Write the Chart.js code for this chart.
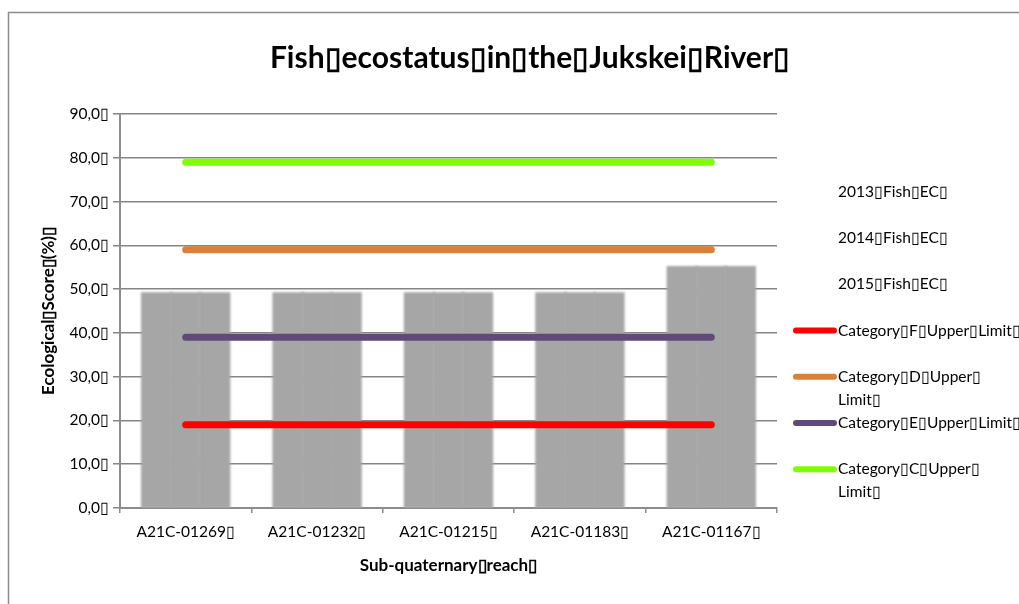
<!DOCTYPE html>
<html>
<head>
<meta charset="utf-8">
<script src="https://cdn.jsdelivr.net/npm/chart.js@4/dist/chart.umd.min.js"></script>
<style>
  html, body { margin: 0; padding: 0; background: #ffffff; }
  #wrap { width: 1019px; height: 604px; position: relative; }
</style>
</head>
<body>
<div id="wrap"><canvas id="c" width="1019" height="604"></canvas></div>
<script>
// Sub-quaternary reaches along the river
const categories = ['A21C-01269\u25AF', 'A21C-01232\u25AF', 'A21C-01215\u25AF', 'A21C-01183\u25AF', 'A21C-01167\u25AF'];

// Fish ecological category scores (%) per survey year
const fish2013 = [49, 49, 49, 49, 55];
const fish2014 = [49, 49, 49, 49, 55];
const fish2015 = [49, 49, 49, 49, 55];

// Upper limits of the ecological categories
const limitF = [19, 19, 19, 19, 19];
const limitD = [59, 59, 59, 59, 59];
const limitE = [39, 39, 39, 39, 39];
const limitC = [79, 79, 79, 79, 79];

// Y axis ticks
const yTicks = [0, 10, 20, 30, 40, 50, 60, 70, 80, 90];

const seriesNames = ['2013\u25AFFish\u25AFEC\u25AF', '2014\u25AFFish\u25AFEC\u25AF', '2015\u25AFFish\u25AFEC\u25AF',
  'Category\u25AFF\u25AFUpper\u25AFLimit\u25AF', 'Category\u25AFD\u25AFUpper\u25AFLimit\u25AF',
  'Category\u25AFE\u25AFUpper\u25AFLimit\u25AF', 'Category\u25AFC\u25AFUpper\u25AFLimit\u25AF'];
const legendLines = [
  ['2013\u25AFFish\u25AFEC\u25AF'],
  ['2014\u25AFFish\u25AFEC\u25AF'],
  ['2015\u25AFFish\u25AFEC\u25AF'],
  ['Category\u25AFF\u25AFUpper\u25AFLimit\u25AF'],
  ['Category\u25AFD\u25AFUpper\u25AF', 'Limit\u25AF'],
  ['Category\u25AFE\u25AFUpper\u25AFLimit\u25AF'],
  ['Category\u25AFC\u25AFUpper\u25AF', 'Limit\u25AF']
];
const titleText = 'Fish\u25AFecostatus\u25AFin\u25AFthe\u25AFJukskei\u25AFRiver\u25AF';

const FONT = 'Lato, "Open Sans", sans-serif';
const BAR = '#a6a6a6';

function barSet(label, data) {
  return { type: 'bar', label, data, backgroundColor: BAR, borderWidth: 0, inflateAmount: 1.2,
    categoryPercentage: 0.662, barPercentage: 1.0, order: 2 };
}
function limitSet(label, data, color) {
  return { type: 'line', label, data, borderColor: color, backgroundColor: color,
    borderWidth: 7, borderCapStyle: 'round', pointRadius: 0, pointHoverRadius: 0,
    fill: false, tension: 0, order: 1 };
}

// Soft edges on the columns, chart title, frame and the side legend
const decor = {
  id: 'decor',
  beforeDatasetDraw(chart, args) {
    if (args.meta.type === 'bar') {
      chart.ctx.save();
      chart.ctx.filter = 'blur(1.1px)';
    }
  },
  afterDatasetDraw(chart, args) {
    if (args.meta.type === 'bar') chart.ctx.restore();
  },
  beforeDraw(chart) {
    const ctx = chart.ctx;
    ctx.save();
    ctx.strokeStyle = '#8c8c8c';
    ctx.lineWidth = 1.5;
    ctx.beginPath();
    ctx.moveTo(8.5, 604);
    ctx.lineTo(8.5, 12.5);
    ctx.lineTo(1019, 12.5);
    ctx.stroke();
    ctx.restore();
  },
  afterDraw(chart) {
    const ctx = chart.ctx;
    ctx.save();
    ctx.fillStyle = '#000000';
    ctx.font = 'bold 30px ' + FONT;
    ctx.textAlign = 'center';
    ctx.textBaseline = 'middle';
    ctx.fillText(titleText, 530, 58);

    // legend
    ctx.font = '15.5px ' + FONT;
    ctx.textAlign = 'left';
    const x0 = 796, x1 = 834, tx = 838;
    let y = 192;
    chart.data.datasets.forEach((ds, i) => {
      if (ds.type === 'line') {
        ctx.strokeStyle = ds.borderColor;
        ctx.lineWidth = 6;
        ctx.lineCap = 'round';
        ctx.beginPath();
        ctx.moveTo(x0, y);
        ctx.lineTo(x1, y);
        ctx.stroke();
      }
      ctx.fillStyle = '#000000';
      legendLines[i].forEach((t, k) => ctx.fillText(t, tx, y + k * 23));
      y += 46.2;
    });
    ctx.restore();
  }
};

new Chart(document.getElementById('c'), {
  data: {
    labels: categories,
    datasets: [
      barSet(seriesNames[0], fish2013),
      barSet(seriesNames[1], fish2014),
      barSet(seriesNames[2], fish2015),
      limitSet(seriesNames[3], limitF, '#ff0000'),
      limitSet(seriesNames[4], limitD, '#db8039'),
      limitSet(seriesNames[5], limitE, '#604a7b'),
      limitSet(seriesNames[6], limitC, '#7fff00')
    ]
  },
  options: {
    responsive: false,
    animation: false,
    events: [],
    layout: { padding: { top: 114, right: 242, bottom: 0, left: 30 } },
    plugins: {
      legend: { display: false },
      title: { display: false },
      tooltip: { enabled: false }
    },
    scales: {
      x: {
        offset: true,
        afterFit(s) { s.height = 96; },
        grid: { offset: true, drawOnChartArea: false, drawTicks: true, tickLength: 5,
          color: '#8c8c8c', lineWidth: 1.5 },
        border: { display: true, color: '#8c8c8c', width: 2 },
        ticks: { color: '#000000', font: { family: FONT, size: 15.5 }, padding: 10, maxRotation: 0 },
        title: { display: true, text: 'Sub-quaternary\u25AFreach\u25AF', color: '#000000',
          font: { family: FONT, size: 17, weight: 'bold' }, padding: { top: 0, bottom: 28 } }
      },
      y: {
        min: 0, max: 90,
        z: 1,
        afterFit(s) { s.width = 90; },
        afterBuildTicks(s) { s.ticks = yTicks.map(v => ({ value: v })); },
        grid: { color: '#858585', lineWidth: 1.5, tickLength: 7, drawTicks: true },
        border: { display: true, color: '#8c8c8c', width: 2 },
        ticks: { color: '#000000', font: { family: FONT, size: 15.5 }, padding: 4,
          callback: v => v.toFixed(1).replace('.', ',') + '\u25AF' },
        title: { display: true, text: 'Ecological\u25AFScore\u25AF(%)\u25AF', color: '#000000',
          font: { family: FONT, size: 17, weight: 'bold' }, padding: { top: 8, bottom: 0 } }
      }
    }
  },
  plugins: [decor]
});
</script>
</body>
</html>
